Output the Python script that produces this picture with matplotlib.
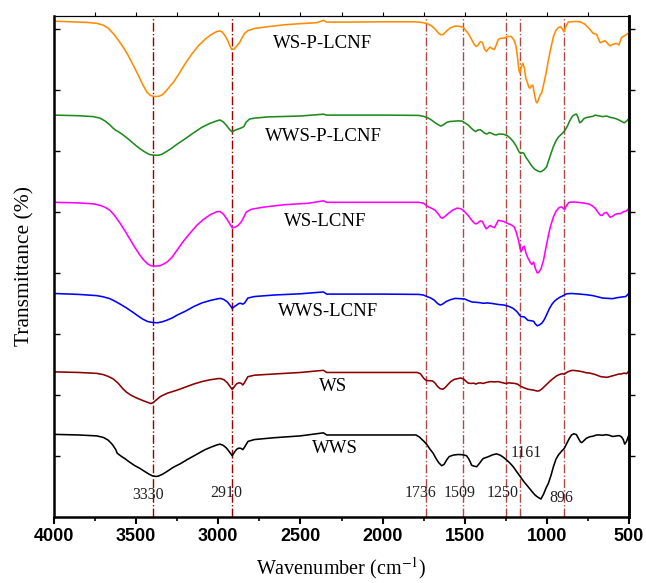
import matplotlib
matplotlib.use("Agg")
import matplotlib.pyplot as plt
import numpy as np

plt.rcParams["mathtext.fontset"] = "stix"

# FTIR spectra: wavenumber (cm-1) and stacked transmittance (arbitrary units)
wn_ws_p_lcnf = [4000, 3900, 3800, 3740, 3700, 3670, 3640, 3610, 3580, 3550, 3520, 3490, 3460, 3435, 3415,
                3400, 3380, 3360, 3340, 3320, 3300, 3270, 3240, 3200, 3160, 3120, 3080, 3040, 3010, 2990,
                2975, 2960, 2945, 2930, 2918, 2905, 2890, 2870, 2855, 2840, 2820, 2780, 2700, 2600, 2500,
                2400, 2360, 2340, 2200, 2000, 1800, 1751, 1720, 1700, 1680, 1660, 1645, 1630, 1610, 1590,
                1560, 1530, 1510, 1495, 1478, 1460, 1444, 1432, 1421, 1405, 1392, 1380, 1369, 1358, 1346,
                1333, 1319, 1308, 1296, 1280, 1262, 1240, 1217, 1200, 1188, 1178, 1170, 1164, 1156, 1146,
                1138, 1128, 1120, 1110, 1103, 1093, 1085, 1075, 1066, 1060, 1050, 1040, 1032, 1020, 1005,
                990, 975, 960, 945, 930, 916, 905, 896, 885, 870, 830, 798, 768, 738, 718, 697, 687,
                675, 660, 646, 630, 616, 600, 575, 561, 545, 525, 505, 500]
t_ws_p_lcnf = [162.6, 162.4, 162.2, 161.9, 161.3, 160.3, 158.6, 156.5, 154.2, 151.5, 148.4, 145.2, 141.8, 139.4, 138.3,
               138.0, 137.9, 138.0, 138.5, 139.6, 140.9, 142.8, 145.3, 148.8, 151.9, 154.6, 156.7, 158.3, 159.2, 159.4,
               159.0, 157.9, 156.5, 154.6, 153.3, 153.4, 154.3, 155.6, 157.2, 158.6, 159.5, 160.2, 160.8, 161.4, 161.8,
               162.1, 162.9, 162.3, 162.3, 162.4, 162.4, 162.1, 161.6, 161.0, 160.0, 158.7, 158.1, 158.3, 159.4, 160.3,
               161.0, 160.9, 160.6, 159.6, 158.5, 156.8, 155.2, 154.3, 154.6, 155.9, 155.6, 153.5, 152.7, 153.4, 154.1,
               153.6, 153.3, 154.8, 156.6, 157.0, 157.0, 157.6, 157.6, 156.4, 154.5, 150.5, 146.5, 145.6, 147.5, 148.8,
               147.5, 143.9, 142.7, 141.0, 140.6, 141.5, 141.6, 138.5, 136.2, 135.8, 137.0, 138.6, 139.0, 141.8, 145.5,
               150.0, 154.0, 157.5, 159.6, 160.5, 160.8, 160.0, 159.1, 160.8, 162.3, 162.5, 162.4, 161.6, 159.9, 158.6, 158.3, 156.9,
               155.5, 155.9, 156.2, 155.3, 154.5, 155.0, 155.3, 154.8, 157.3, 157.9, 158.6, 159.0]

wn_wws_p_lcnf = [4000, 3850, 3760, 3720, 3690, 3660, 3640, 3626, 3610, 3590, 3570, 3540, 3510, 3480, 3450,
                 3420, 3400, 3370, 3345, 3320, 3290, 3250, 3200, 3150, 3100, 3050, 3010, 2990, 2970, 2950,
                 2930, 2915, 2900, 2880, 2860, 2845, 2830, 2810, 2780, 2700, 2500, 2360, 2340, 2000, 1780,
                 1751, 1720, 1700, 1680, 1660, 1645, 1630, 1610, 1590, 1540, 1513, 1495, 1478, 1460, 1445,
                 1433, 1420, 1405, 1395, 1380, 1365, 1350, 1335, 1320, 1308, 1290, 1262, 1240, 1220, 1200,
                 1185, 1170, 1160, 1150, 1140, 1128, 1115, 1103, 1090, 1075, 1060, 1042, 1030, 1015, 1001,
                 990, 975, 960, 945, 930, 910, 892, 875, 860, 845, 830, 819, 810, 800, 790, 775, 760, 740,
                 720, 706, 680, 660, 637, 610, 590, 569, 550, 535, 528, 515, 500]
t_wws_p_lcnf = [131.8, 131.6, 131.3, 130.8, 129.9, 128.6, 127.5, 126.9, 126.4, 125.7, 124.9, 123.6, 122.2, 120.9, 119.8,
                118.9, 118.7, 118.6, 118.9, 119.7, 120.7, 122.3, 124.1, 126.0, 127.8, 129.1, 129.9, 130.2, 129.6, 128.4,
                127.0, 126.3, 126.8, 127.2, 127.6, 128.0, 129.5, 130.5, 130.8, 131.2, 131.5, 132.1, 131.8, 131.8, 131.7,
                131.4, 130.8, 130.1, 129.3, 128.6, 128.2, 128.6, 129.4, 129.7, 129.9, 129.8, 129.1, 128.5, 127.5, 126.8,
                126.4, 126.9, 127.0, 126.6, 125.9, 125.6, 126.1, 125.8, 125.4, 125.3, 125.6, 125.5, 125.0, 124.1, 122.8,
                121.5, 119.8, 119.2, 119.5, 119.3, 118.0, 117.0, 116.0, 115.0, 114.1, 113.6, 113.2, 113.4, 114.0, 114.9,
                116.8, 119.2, 121.5, 123.3, 124.6, 125.6, 126.6, 128.2, 130.0, 131.4, 132.0, 132.1, 131.0, 129.3, 129.6,
                130.6, 131.0, 131.2, 131.4, 131.8, 131.5, 131.3, 131.5, 131.0, 130.8, 130.4, 129.9, 129.4, 129.3, 129.8, 130.7]

wn_ws_lcnf = [4000, 3850, 3760, 3720, 3690, 3660, 3630, 3600, 3570, 3540, 3510, 3480, 3456, 3430, 3410,
              3380, 3355, 3335, 3310, 3280, 3250, 3210, 3170, 3130, 3090, 3050, 3010, 2990, 2970, 2950,
              2930, 2915, 2900, 2880, 2860, 2845, 2830, 2800, 2728, 2600, 2450, 2360, 2340, 2000, 1780,
              1751, 1730, 1717, 1700, 1680, 1660, 1645, 1635, 1620, 1603, 1575, 1546, 1525, 1512, 1495,
              1478, 1460, 1444, 1432, 1421, 1405, 1392, 1380, 1369, 1358, 1346, 1333, 1319, 1308, 1296,
              1280, 1262, 1240, 1217, 1200, 1188, 1178, 1171, 1163, 1155, 1145, 1137, 1127, 1115, 1103,
              1092, 1081, 1070, 1058, 1048, 1035, 1020, 1005, 990, 978, 960, 944, 925, 910, 900, 892,
              880, 865, 830, 796, 770, 740, 720, 705, 690, 675, 664, 650, 637, 625, 615, 600, 585, 569,
              550, 535, 515, 500]
t_ws_lcnf = [103.2, 103.0, 102.7, 102.2, 101.6, 100.6, 98.8, 96.5, 94.0, 91.3, 88.6, 86.1, 84.4, 83.0, 82.4,
             82.3, 82.4, 82.9, 83.7, 85.3, 87.6, 90.6, 93.2, 95.7, 97.6, 99.1, 100.1, 100.2, 99.4, 97.9,
             96.1, 94.8, 95.0, 95.6, 96.8, 98.3, 100.0, 100.9, 101.6, 102.4, 102.9, 103.7, 103.2, 103.2, 103.2,
             102.9, 102.0, 101.6, 101.2, 100.6, 99.3, 98.2, 98.0, 98.6, 99.4, 100.6, 101.3, 101.1, 100.7, 99.8,
             98.8, 97.5, 96.5, 96.1, 96.4, 97.1, 96.9, 95.5, 94.5, 95.0, 95.6, 95.2, 94.9, 96.0, 97.3,
             97.1, 96.9, 96.3, 95.8, 95.2, 93.7, 91.8, 90.4, 88.0, 87.1, 88.5, 88.8, 86.5, 84.9, 83.7,
             82.8, 83.6, 81.5, 80.0, 80.3, 81.5, 84.3, 88.5, 92.5, 95.3, 98.4, 100.3, 101.5, 101.7, 101.2, 100.8,
             102.2, 103.2, 103.3, 103.1, 102.9, 102.6, 101.9, 101.2, 100.0, 99.0, 98.9, 99.7, 99.9, 99.0, 98.3, 98.6, 99.2, 99.5,
             99.5, 100.1, 100.4, 101.3]

wn_wws_lcnf = [4000, 3850, 3740, 3700, 3660, 3630, 3600, 3560, 3524, 3490, 3460, 3430, 3401, 3370, 3342,
               3310, 3280, 3251, 3200, 3150, 3100, 3050, 3000, 2985, 2965, 2944, 2925, 2915, 2900, 2888,
               2875, 2865, 2850, 2838, 2820, 2780, 2660, 2500, 2360, 2340, 2000, 1780, 1751, 1730, 1706,
               1685, 1665, 1649, 1635, 1615, 1590, 1558, 1530, 1501, 1480, 1455, 1430, 1410, 1388, 1360,
               1330, 1296, 1260, 1228, 1205, 1183, 1170, 1160, 1150, 1137, 1125, 1115, 1100, 1081, 1070,
               1058, 1045, 1030, 1015, 1000, 985, 970, 955, 940, 920, 900, 880, 850, 800, 760, 720, 690,
               660, 630, 600, 575, 550, 520, 505, 500]
t_wws_lcnf = [73.3, 73.0, 72.6, 72.2, 71.6, 70.8, 69.9, 68.6, 67.3, 66.0, 64.9, 64.1, 63.8, 63.7, 64.0,
              64.6, 65.3, 66.2, 67.5, 69.0, 70.2, 71.0, 71.6, 71.7, 71.3, 70.5, 69.2, 68.4, 69.1, 69.5,
              70.0, 70.1, 69.8, 70.3, 71.8, 72.3, 72.8, 73.2, 73.8, 73.1, 73.1, 73.0, 72.8, 72.3, 71.8,
              71.1, 70.0, 69.5, 69.8, 70.6, 71.2, 71.7, 71.6, 71.5, 71.0, 70.5, 70.4, 70.3, 70.1, 70.2,
              70.0, 69.7, 69.5, 69.0, 68.4, 67.4, 66.5, 65.8, 65.7, 65.6, 65.0, 64.5, 64.4, 64.2, 63.3,
              62.7, 63.0, 63.6, 64.8, 66.5, 68.3, 69.7, 70.7, 71.4, 72.1, 72.6, 73.2, 73.3, 73.1, 72.9, 72.6, 72.2,
              71.8, 71.7, 71.6, 71.9, 72.1, 72.3, 73.1, 73.6]

wn_ws = [4000, 3850, 3740, 3700, 3670, 3640, 3610, 3580, 3558, 3530, 3500, 3478, 3450, 3425, 3410,
         3395, 3375, 3355, 3342, 3310, 3280, 3251, 3200, 3150, 3100, 3050, 3000, 2985, 2965, 2945,
         2930, 2915, 2900, 2888, 2875, 2862, 2850, 2838, 2820, 2780, 2660, 2500, 2360, 2340, 2000,
         1790, 1770, 1751, 1735, 1715, 1695, 1680, 1665, 1650, 1633, 1618, 1603, 1585, 1565, 1540,
         1524, 1510, 1501, 1490, 1478, 1460, 1445, 1433, 1418, 1405, 1388, 1370, 1342, 1320, 1296,
         1275, 1251, 1230, 1217, 1195, 1180, 1171, 1160, 1149, 1130, 1115, 1103, 1080, 1060, 1046,
         1030, 1015, 1001, 980, 960, 940, 920, 905, 894, 880, 860, 842, 810, 780, 760, 740, 710,
         690, 670, 650, 636, 620, 600, 580, 560, 546, 530, 515, 505, 500]
t_ws = [47.6, 47.4, 47.1, 46.7, 46.1, 45.3, 43.9, 42.0, 40.9, 39.9, 39.1, 38.6, 38.0, 37.5, 37.2,
        37.6, 38.5, 39.4, 39.8, 40.6, 41.1, 41.6, 42.6, 43.6, 44.4, 45.0, 45.4, 45.4, 45.0, 44.0,
        42.9, 41.8, 42.9, 43.7, 44.0, 43.9, 43.3, 44.3, 46.0, 46.5, 46.9, 47.4, 48.1, 47.4, 47.4,
        47.4, 47.0, 45.6, 44.8, 44.7, 44.6, 43.9, 42.8, 42.1, 41.9, 42.5, 43.4, 44.4, 45.1, 45.4,
        45.6, 45.3, 45.0, 44.4, 43.9, 43.8, 43.9, 43.6, 43.9, 44.0, 43.8, 44.1, 44.4, 44.3, 44.4,
        44.1, 43.8, 44.0, 43.9, 43.8, 43.6, 43.3, 42.9, 42.6, 42.2, 41.9, 41.8, 41.6, 41.3, 41.4,
        42.0, 42.8, 43.5, 44.6, 45.5, 46.3, 46.8, 47.0, 46.8, 47.4, 47.9, 48.1, 47.9, 47.6, 47.3, 47.2, 46.8,
        46.4, 46.0, 45.9, 45.8, 46.0, 46.3, 46.6, 46.9, 46.9, 47.2, 47.0, 47.6, 47.9]

wn_wws = [4000, 3850, 3740, 3700, 3670, 3645, 3625, 3615, 3600, 3585, 3570, 3540, 3510, 3479, 3450,
          3420, 3401, 3380, 3365, 3340, 3310, 3274, 3230, 3190, 3160, 3120, 3080, 3040, 3010, 2990,
          2970, 2950, 2930, 2915, 2900, 2888, 2875, 2862, 2850, 2838, 2819, 2780, 2660, 2500, 2360,
          2340, 2000, 1797, 1775, 1760, 1746, 1730, 1712, 1692, 1675, 1658, 1640, 1625, 1610, 1595,
          1570, 1540, 1510, 1489, 1475, 1465, 1458, 1445, 1427, 1410, 1395, 1387, 1360, 1330, 1306,
          1285, 1265, 1245, 1225, 1205, 1184, 1160, 1140, 1123, 1100, 1085, 1072, 1055, 1036, 1020,
          1005, 991, 975, 960, 945, 930, 910, 894, 880, 865, 850, 835, 820, 805, 795, 788, 775, 760,
          740, 720, 697, 680, 660, 640, 620, 600, 575, 560, 546, 535, 526, 515, 505, 500]
t_wws = [27.1, 26.9, 26.6, 26.1, 25.2, 23.8, 22.2, 20.9, 20.3, 19.7, 19.2, 18.0, 16.9, 16.0, 15.0,
         14.0, 13.5, 13.3, 13.4, 14.0, 15.0, 16.3, 17.5, 18.8, 19.7, 20.9, 22.1, 23.0, 23.6, 23.9,
         23.5, 22.6, 21.2, 20.1, 21.4, 22.2, 22.6, 22.5, 22.1, 23.1, 24.8, 25.4, 26.0, 26.6, 27.6,
         26.9, 26.9, 26.9, 26.2, 25.4, 24.7, 23.7, 22.3, 20.9, 19.2, 17.8, 16.8, 17.3, 18.7, 19.8,
         20.3, 20.5, 20.4, 20.1, 19.0, 17.9, 17.0, 16.7, 16.5, 17.6, 18.7, 19.2, 19.7, 20.4, 20.7,
         20.3, 19.6, 18.7, 17.7, 16.5, 14.9, 13.1, 11.6, 10.5, 9.0, 8.0, 7.2, 6.5, 5.9, 7.5,
         9.5, 11.0, 13.6, 16.5, 18.9, 20.3, 21.6, 22.5, 24.0, 25.6, 26.9, 27.3, 27.0, 25.5, 24.6, 24.4, 25.0, 25.8,
         26.3, 26.5, 26.9, 26.9, 26.8, 27.0, 26.8, 26.4, 26.6, 26.7, 26.3, 25.4, 23.9, 24.8, 26.3, 26.9]

names = ["WS-P-LCNF", "WWS-P-LCNF", "WS-LCNF", "WWS-LCNF", "WS", "WWS"]
colors = ["#ff8c00", "#1e8a1e", "#ff00ff", "#0000ff", "#8b0000", "#000000"]
label_wn = [2365, 2358, 2350, 2332, 2304, 2293]
label_t = [155.4, 124.7, 97.0, 67.3, 42.7, 22.5]

# marked bands (the two OH/CH lines are drawn darker than the fingerprint ones)
band_pos = [3400, 2915, 1736, 1509, 1250, 1161, 896]
band_color = ["#990000", "#990000", "#b04848", "#b04848", "#b04848", "#b04848", "#b04848"]
band_text = ["3330", "2910", "1736", "1509", "1250", "1161", "896"]
band_text_wn = [3425, 2950, 1772, 1528, 1267, 1127, 914]
band_text_t = [7.2, 7.9, 7.9, 7.9, 7.9, 21.0, 6.2]

spectra = [(wn_ws_p_lcnf, t_ws_p_lcnf), (wn_wws_p_lcnf, t_wws_p_lcnf), (wn_ws_lcnf, t_ws_lcnf),
           (wn_wws_lcnf, t_wws_lcnf), (wn_ws, t_ws), (wn_wws, t_wws)]

serif = ["Liberation Serif", "DejaVu Serif"]

fig = plt.figure(figsize=(6.46, 5.83), dpi=100)
ax = fig.add_axes([54 / 646, 66 / 583, 575 / 646, 501 / 583])

for (w, t), c in zip(spectra, colors):
    ax.plot(w, t, color=c, lw=1.15)

for p, c in zip(band_pos, band_color):
    ax.axvline(p, color=c, lw=1.0, ls="-.", zorder=0)

for n, x, y in zip(names, label_wn, label_t):
    ax.text(x, y, n, family=serif, fontsize=13.5, ha="center", va="center")

for s, x, y in zip(band_text, band_text_wn, band_text_t):
    ax.text(x, y, s, family=serif, fontsize=11.5, ha="center", va="center", color="#222222")

ax.set_xlim(4000, 500)
ax.set_ylim(0, 164.3)
ax.set_xticks(np.arange(4000, 499, -500))
ax.set_xticks(np.arange(3750, 500, -500), minor=True)
ax.set_yticks(np.arange(20, 161, 20))
ax.tick_params(axis="x", which="major", direction="out", length=5, width=1.5, labelsize=13, pad=3)
ax.tick_params(axis="x", which="minor", direction="out", length=3, width=1.2)
ax.tick_params(axis="y", direction="in", length=4, width=1.0, labelleft=False)
for lab in ax.get_xticklabels():
    lab.set_fontweight("bold")
    lab.set_family("Liberation Sans")

for side in ["left", "right", "bottom"]:
    ax.spines[side].set_linewidth(1.8)
ax.spines["top"].set_linewidth(0.8)

sec_r = ax.secondary_yaxis("right")
sec_r.set_yticks(np.arange(20, 161, 20))
sec_r.tick_params(direction="out", length=4, width=1.0, labelright=False)
sec_r.spines["right"].set_linewidth(1.8)

sec_t = ax.secondary_xaxis("top")
sec_t.set_xticks(np.arange(3750, 500, -250))
sec_t.tick_params(direction="out", length=3, width=0.8, labeltop=False)
sec_t.spines["top"].set_linewidth(0.8)

ax.set_xlabel("Wavenumber (cm$^{-1}$)", family=serif, fontsize=14.5, labelpad=7)
ax.set_ylabel("Transmittance (%)", family=serif, fontsize=15.5, labelpad=14)

fig.savefig("out.png", dpi=100)
